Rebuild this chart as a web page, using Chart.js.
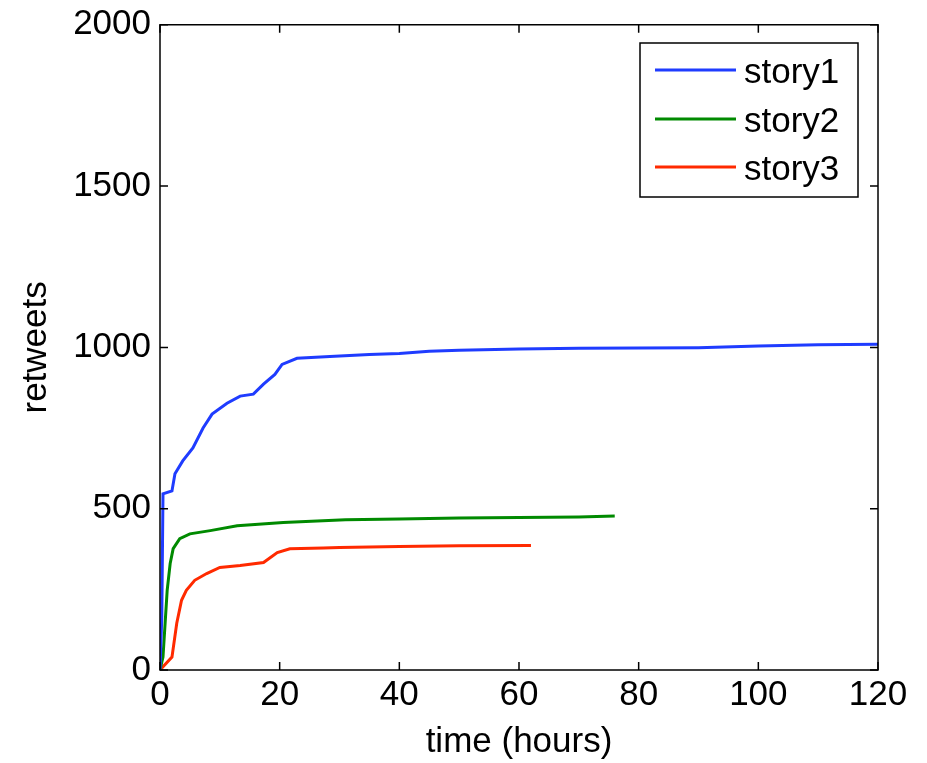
<!DOCTYPE html>
<html>
<head>
<meta charset="utf-8">
<script src="https://cdn.jsdelivr.net/npm/chart.js@4"></script>
<style>
  html, body { margin: 0; padding: 0; background: #fff; }
  #wrap { width: 927px; height: 763px; }
</style>
</head>
<body>
<div id="wrap"><canvas id="chartCanvas" width="927" height="763"></canvas></div>
<script>
/* ─── data ─── */
const story1Hours    = [0, 0.3, 0.5, 2, 2.5, 3.8, 5.5, 7.2, 8.7, 11.2, 13.4, 15.6, 17.3, 19.2, 20.4, 22.9, 28.4, 35, 40, 45, 50, 60, 70, 80, 90, 100, 110, 120];
const story1Retweets = [0, 164, 546, 555, 608, 648, 688, 750, 793, 827, 849, 855, 886, 916, 947, 966, 972, 978, 981, 988, 991, 995, 997, 998, 999, 1004, 1008, 1010];

const story2Hours    = [0, 0.5, 1.2, 1.7, 2.2, 3.3, 5, 8.4, 12.9, 20.6, 31, 40, 50, 60, 70, 76];
const story2Retweets = [0, 40, 247, 330, 376, 407, 422, 432, 447, 457, 466, 468, 471, 473, 474, 477];

const story3Hours    = [0, 2, 2.8, 3.6, 4.4, 5.8, 7.8, 10, 13.4, 17.3, 19.6, 21.7, 27.3, 30, 40, 50, 62];
const story3Retweets = [0, 40, 145, 216, 247, 278, 299, 318, 324, 333, 364, 376, 378, 380, 383, 385, 386];

const seriesNames  = ['story1', 'story2', 'story3'];
const seriesColors = ['#1f3cff', '#008a00', '#ff2a00'];

const xTicks = [0, 20, 40, 60, 80, 100, 120];
const yTicks = [0, 500, 1000, 1500, 2000];

const FONT = "'Liberation Sans', Arial, sans-serif";
const FONT_SIZE = 35;

function toPoints(xs, ys) {
  return xs.map((x, i) => ({ x, y: ys[i] }));
}

/* ─── frame, inward ticks and legend box ─── */
const framePlugin = {
  id: 'frame',
  afterDraw(c) {
    const ctx = c.ctx;
    const a = c.chartArea;
    const xs = c.scales.x, ys = c.scales.y;
    ctx.save();
    ctx.strokeStyle = '#000';
    ctx.lineWidth = 1.5;
    ctx.strokeRect(a.left, a.top, a.right - a.left, a.bottom - a.top);

    const len = 8;
    ctx.beginPath();
    xTicks.forEach(v => {
      const px = xs.getPixelForValue(v);
      ctx.moveTo(px, a.bottom); ctx.lineTo(px, a.bottom - len);
      ctx.moveTo(px, a.top);    ctx.lineTo(px, a.top + len);
    });
    yTicks.forEach(v => {
      const py = ys.getPixelForValue(v);
      ctx.moveTo(a.left, py);  ctx.lineTo(a.left + len, py);
      ctx.moveTo(a.right, py); ctx.lineTo(a.right - len, py);
    });
    ctx.stroke();

    // legend
    const lx = 640, ly = 43, lw = 218, lh = 154;
    ctx.fillStyle = '#fff';
    ctx.fillRect(lx, ly, lw, lh);
    ctx.lineWidth = 1.5;
    ctx.strokeRect(lx, ly, lw, lh);
    const rows = [70, 119, 167];
    ctx.font = FONT_SIZE + 'px ' + FONT;
    ctx.textBaseline = 'middle';
    rows.forEach((ry, i) => {
      ctx.strokeStyle = seriesColors[i];
      ctx.lineWidth = 3;
      ctx.beginPath();
      ctx.moveTo(655, ry); ctx.lineTo(736, ry);
      ctx.stroke();
      ctx.fillStyle = '#000';
      ctx.fillText(seriesNames[i], 744, ry + 3);
    });
    ctx.restore();
  }
};

const datasets = [
  toPoints(story1Hours, story1Retweets),
  toPoints(story2Hours, story2Retweets),
  toPoints(story3Hours, story3Retweets)
].map((pts, i) => ({
  label: seriesNames[i],
  data: pts,
  borderColor: seriesColors[i],
  backgroundColor: seriesColors[i],
  borderWidth: 3,
  pointRadius: 0,
  tension: 0,
  fill: false
}));

new Chart(document.getElementById('chartCanvas').getContext('2d'), {
  type: 'line',
  data: { datasets },
  plugins: [framePlugin],
  options: {
    responsive: false,
    animation: false,
    layout: { padding: { top: 18, right: 49, left: 0, bottom: 0 } },
    plugins: {
      legend: { display: false },
      tooltip: { enabled: false }
    },
    scales: {
      x: {
        type: 'linear',
        min: 0, max: 120,
        afterBuildTicks: s => { s.ticks = xTicks.map(v => ({ value: v })); },
        afterFit: s => { s.height = 93; },
        grid: { display: false, drawTicks: false },
        border: { display: false },
        ticks: { color: '#000', font: { size: FONT_SIZE, family: FONT }, padding: 4, maxRotation: 0,
                 callback: v => String(v) },
        title: { display: true, text: 'time (hours)', color: '#000', font: { size: FONT_SIZE, family: FONT }, padding: { top: 0, bottom: 0 } }
      },
      y: {
        type: 'linear',
        min: 0, max: 2000,
        afterBuildTicks: s => { s.ticks = yTicks.map(v => ({ value: v })); },
        afterFit: s => { s.width = 160; },
        grid: { display: false, drawTicks: false },
        border: { display: false },
        ticks: { color: '#000', font: { size: FONT_SIZE, family: FONT, lineHeight: 0.9 }, padding: 9,
                 callback: v => String(v) },
        title: { display: true, text: 'retweets', color: '#000', font: { size: FONT_SIZE, family: FONT }, padding: { top: 15, bottom: 0 } }
      }
    }
  }
});
</script>
</body>
</html>
